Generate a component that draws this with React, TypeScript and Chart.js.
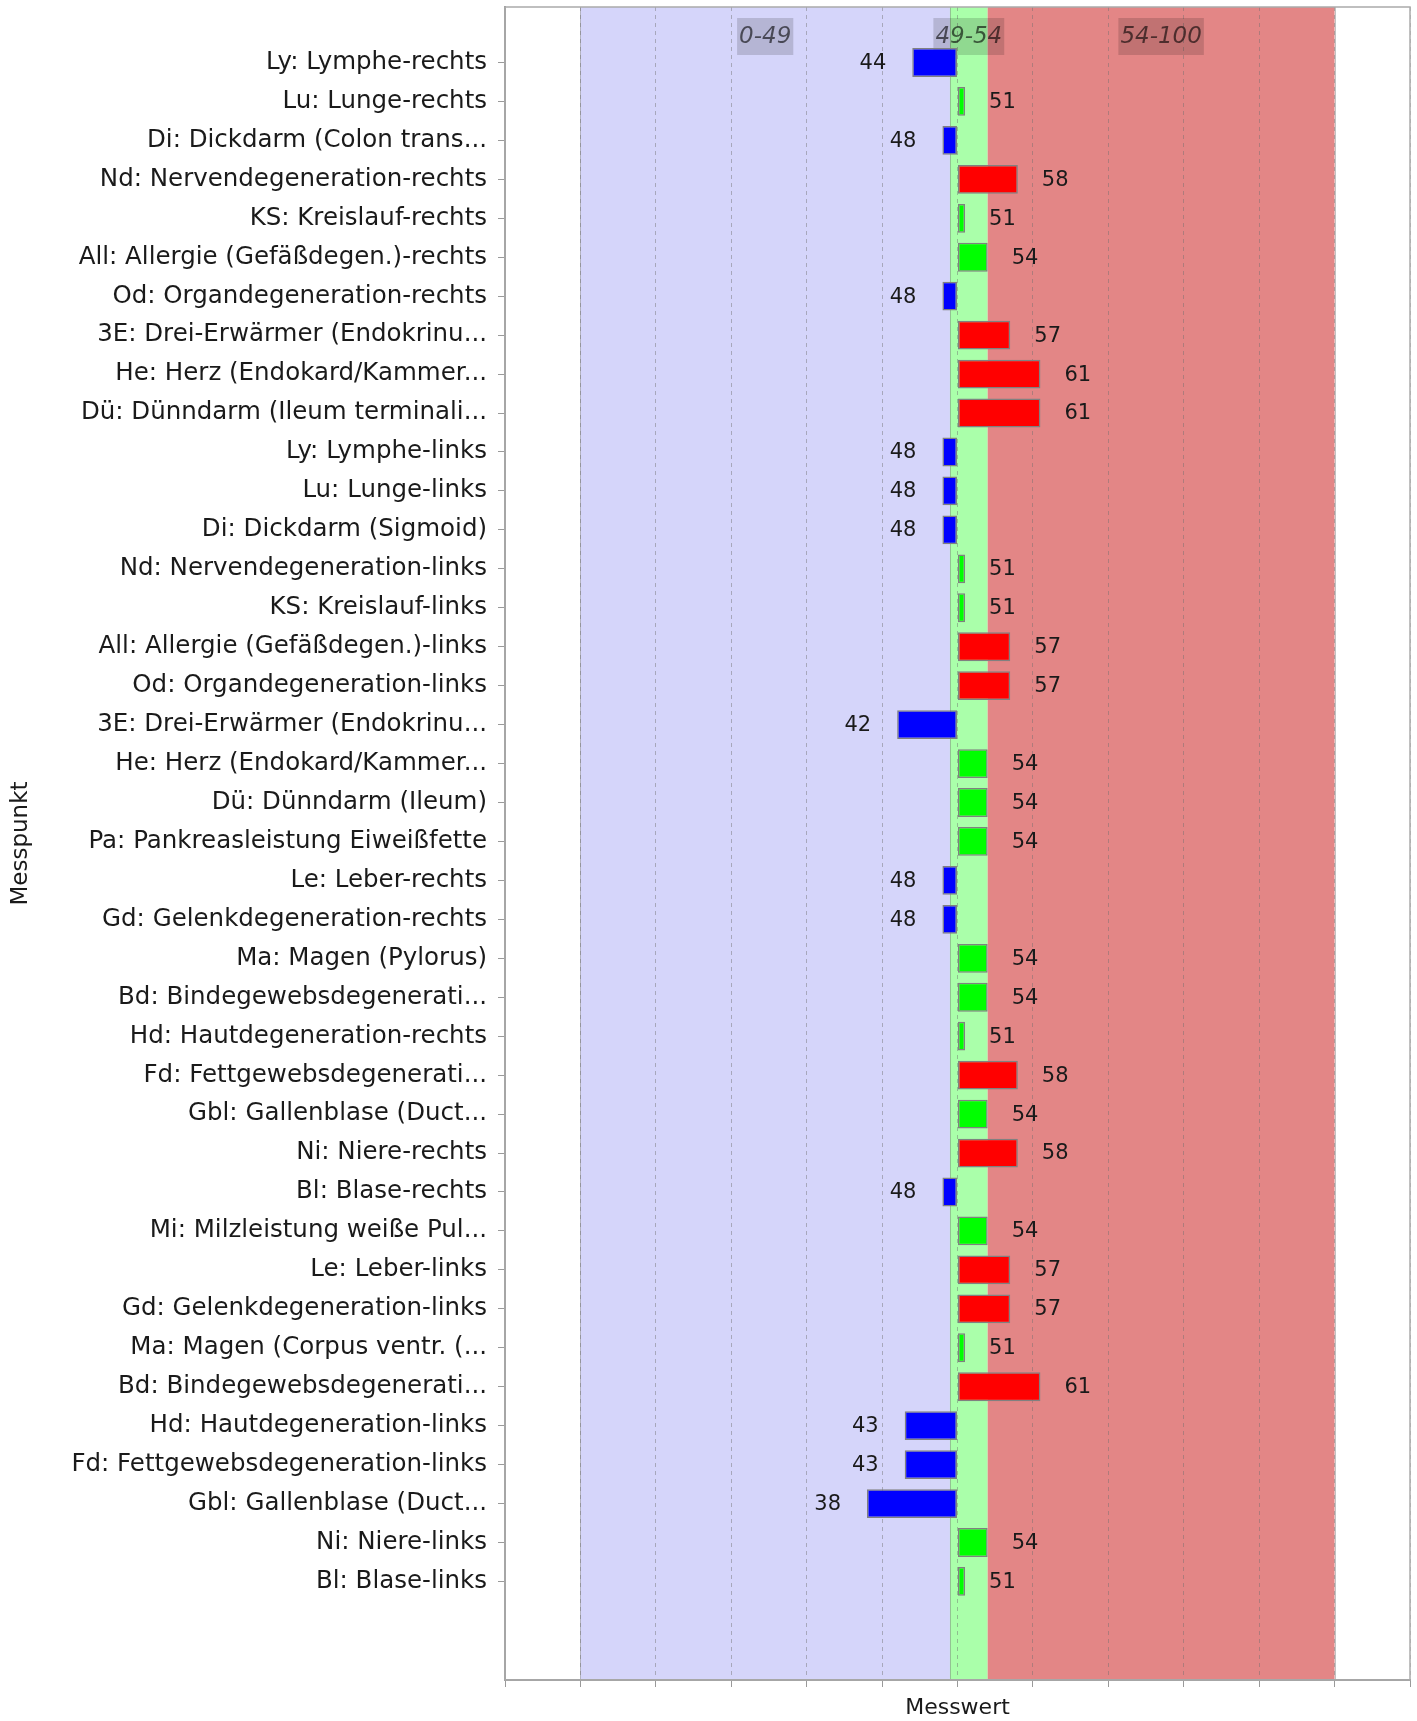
import { useEffect, useRef } from 'react';
import { Chart, registerables } from 'chart.js';

Chart.register(...registerables);

const categories: string[] = [
  'Ly: Lymphe-rechts',
  'Lu: Lunge-rechts',
  'Di: Dickdarm (Colon trans...',
  'Nd: Nervendegeneration-rechts',
  'KS: Kreislauf-rechts',
  'All: Allergie (Gefäßdegen.)-rechts',
  'Od: Organdegeneration-rechts',
  '3E: Drei-Erwärmer (Endokrinu...',
  'He: Herz (Endokard/Kammer...',
  'Dü: Dünndarm (Ileum terminali...',
  'Ly: Lymphe-links',
  'Lu: Lunge-links',
  'Di: Dickdarm (Sigmoid)',
  'Nd: Nervendegeneration-links',
  'KS: Kreislauf-links',
  'All: Allergie (Gefäßdegen.)-links',
  'Od: Organdegeneration-links',
  '3E: Drei-Erwärmer (Endokrinu...',
  'He: Herz (Endokard/Kammer...',
  'Dü: Dünndarm (Ileum)',
  'Pa: Pankreasleistung Eiweißfette',
  'Le: Leber-rechts',
  'Gd: Gelenkdegeneration-rechts',
  'Ma: Magen (Pylorus)',
  'Bd: Bindegewebsdegenerati...',
  'Hd: Hautdegeneration-rechts',
  'Fd: Fettgewebsdegenerati...',
  'Gbl: Gallenblase (Duct...',
  'Ni: Niere-rechts',
  'Bl: Blase-rechts',
  'Mi: Milzleistung weiße Pul...',
  'Le: Leber-links',
  'Gd: Gelenkdegeneration-links',
  'Ma: Magen (Corpus ventr. (...',
  'Bd: Bindegewebsdegenerati...',
  'Hd: Hautdegeneration-links',
  'Fd: Fettgewebsdegeneration-links',
  'Gbl: Gallenblase (Duct...',
  'Ni: Niere-links',
  'Bl: Blase-links',
];

const values: number[] = [
  44, 51, 48, 58, 51, 54, 48, 57, 61, 61,
  48, 48, 48, 51, 51, 57, 57, 42, 54, 54,
  54, 48, 48, 54, 54, 51, 58, 54, 58, 48,
  54, 57, 57, 51, 61, 43, 43, 38, 54, 51,
];

const barBase = 50;
const bandStarts: number[] = [0, 49, 54];
const bandEnds: number[] = [49, 54, 100];
const bandLabels: string[] = ['0-49', '49-54', '54-100'];
const bandColors: string[] = ['#D5D5FA', '#AAFFAA', '#E38686'];
const barColors: string[] = ['#0000FF', '#00FF00', '#FF0000'];
const xMin = -10;
const xMax = 110;
const xStep = 10;
const xTitle = 'Messwert';
const yTitle = 'Messpunkt';

function bandIndex(v: number): number {
  if (v < bandEnds[0]) return 0;
  if (v <= bandEnds[1]) return 1;
  return 2;
}

const FONT = '"DejaVu Sans", sans-serif';

const bandPlugin = {
  id: 'bands',
  beforeDraw(chart: any) {
    const { ctx, chartArea, scales } = chart;
    const x = scales.x;
    ctx.save();
    ctx.fillStyle = '#ffffff';
    ctx.fillRect(0, 0, chart.width, chart.height);
    for (let i = 0; i < bandStarts.length; i++) {
      const x0 = x.getPixelForValue(bandStarts[i]);
      const x1 = x.getPixelForValue(bandEnds[i]);
      ctx.fillStyle = bandColors[i];
      ctx.fillRect(x0, chartArea.top, x1 - x0, chartArea.bottom - chartArea.top);
    }
    ctx.strokeStyle = 'rgba(120,120,120,0.45)';
    ctx.lineWidth = 1;
    const edges = [bandStarts[0], bandStarts[1], bandEnds[2]];
    edges.forEach((e) => {
      const px = Math.round(x.getPixelForValue(e)) + 0.5;
      ctx.beginPath();
      ctx.moveTo(px, chartArea.top);
      ctx.lineTo(px, chartArea.bottom);
      ctx.stroke();
    });
    ctx.restore();
  },
  beforeDatasetsDraw(chart: any) {
    const { ctx, chartArea, scales } = chart;
    const x = scales.x;
    ctx.save();
    ctx.font = 'italic 23px ' + FONT;
    ctx.textAlign = 'center';
    ctx.textBaseline = 'middle';
    for (let i = 0; i < bandStarts.length; i++) {
      const cx = x.getPixelForValue((bandStarts[i] + bandEnds[i]) / 2);
      const w = ctx.measureText(bandLabels[i]).width;
      const top = chartArea.top + 11;
      ctx.fillStyle = 'rgba(0,0,0,0.15)';
      ctx.fillRect(cx - w / 2 - 2, top, w + 4, 37);
      ctx.fillStyle = 'rgba(0,0,0,0.6)';
      ctx.fillText(bandLabels[i], cx, top + 19);
    }
    ctx.restore();
  },
  afterDatasetsDraw(chart: any) {
    const { ctx, chartArea } = chart;
    const meta = chart.getDatasetMeta(0);
    ctx.save();
    ctx.font = '21px ' + FONT;
    ctx.fillStyle = '#1a1a1a';
    ctx.textBaseline = 'middle';
    meta.data.forEach((bar: any, i: number) => {
      const v = values[i];
      const p = bar.getProps(['x', 'y', 'base'], true);
      if (v >= barBase) {
        ctx.textAlign = 'left';
        ctx.fillText(String(v), p.x + 24, p.y + 1);
      } else {
        ctx.textAlign = 'right';
        ctx.fillText(String(v), p.x - 26, p.y + 1);
      }
    });
    ctx.strokeStyle = '#ababab';
    ctx.lineWidth = 1.5;
    ctx.strokeRect(chartArea.left, chartArea.top, chartArea.right - chartArea.left, chartArea.bottom - chartArea.top);
    ctx.restore();
  },
};

export default function App() {
  const ref = useRef<HTMLCanvasElement | null>(null);
  useEffect(() => {
    if (!ref.current) return;
    const chart = new Chart(ref.current, {
      type: 'bar',
      data: {
        datasets: [
          {
            data: values.map((v, i) => ({ x: v, y: i })) as any,
            base: barBase,
            backgroundColor: values.map((v) => barColors[bandIndex(v)]),
            borderColor: '#808080',
            borderWidth: 1.5,
            borderSkipped: false,
            categoryPercentage: 1,
            barPercentage: 0.74,
          } as any,
        ],
      },
      options: {
        indexAxis: 'y',
        responsive: false,
        animation: false,
        devicePixelRatio: 1,
        layout: { padding: { left: 3, top: 7, right: 7, bottom: 0 } },
        plugins: { legend: { display: false }, tooltip: { enabled: false } },
        scales: {
          x: {
            type: 'linear',
            position: 'bottom',
            min: xMin,
            max: xMax,
            offset: false,
            ticks: { stepSize: xStep, display: false },
            grid: {
              display: true,
              offset: false,
              drawOnChartArea: true,
              drawTicks: true,
              tickLength: 7,
              color: 'rgba(110,110,110,0.45)',
              tickColor: '#9a9a9a',
              lineWidth: 1,
            },
            border: { display: true, color: '#9a9a9a', width: 2, dash: [4, 4] } as any,
            title: {
              display: true,
              text: xTitle,
              color: '#1a1a1a',
              font: { family: FONT, size: 22 },
              padding: { top: 4, bottom: 0 },
            },
            afterFit(scale: any) {
              scale.height = 41;
            },
          } as any,
          y: {
            type: 'linear',
            position: 'left',
            reverse: true,
            offset: false,
            min: -1.425,
            max: 41.53,
            afterBuildTicks(scale: any) {
              scale.ticks = categories.map((_, i) => ({ value: i }));
            },
            ticks: {
              autoSkip: false,
              padding: 11,
              color: '#1a1a1a',
              font: { family: FONT, size: 24.5 },
              callback: (v: any) => categories[v as number] ?? '',
            },
            grid: {
              display: true,
              offset: false,
              drawOnChartArea: false,
              drawTicks: true,
              tickLength: 7,
              tickColor: '#9a9a9a',
            },
            border: { display: true, color: '#9a9a9a', width: 2 },
            title: {
              display: true,
              text: yTitle,
              color: '#1a1a1a',
              font: { family: FONT, size: 23 },
              padding: { top: 4, bottom: 0 },
            },
            afterFit(scale: any) {
              scale.width = 502;
              scale.paddingTop = 0;
              scale.paddingBottom = 0;
            },
          } as any,
        },
      },
      plugins: [bandPlugin],
    });
    return () => chart.destroy();
  }, []);
  return (
    <div style={{ position: 'absolute', left: 0, top: 0, width: 1417, height: 1721 }}>
      <canvas ref={ref} width={1417} height={1721} />
    </div>
  );
}
